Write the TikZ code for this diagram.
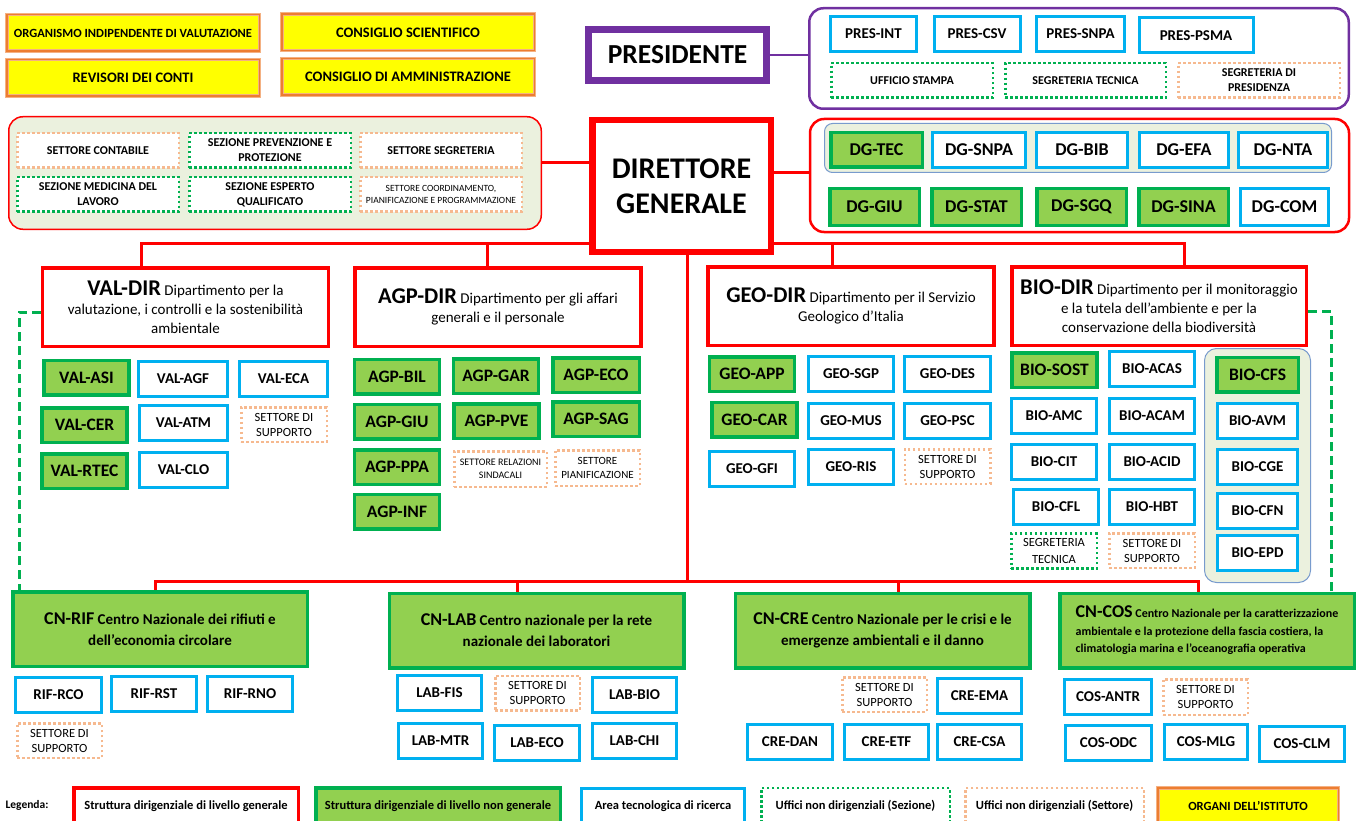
\documentclass[tikz,border=0pt]{standalone}
\usepackage{fontspec}
\setmainfont{Carlito}
\usetikzlibrary{backgrounds}

\definecolor{redline}{RGB}{255,0,0}
\definecolor{greenline}{RGB}{0,176,80}
\definecolor{greenfill}{RGB}{146,208,80}
\definecolor{blueline}{RGB}{0,176,240}
\definecolor{orangedot}{RGB}{246,185,143}
\definecolor{purpleline}{RGB}{112,48,160}
\definecolor{organfill}{RGB}{255,255,0}
\definecolor{organline}{RGB}{237,125,49}
\definecolor{organouter}{RGB}{244,177,131}
\definecolor{panelfill}{RGB}{235,241,222}
\definecolor{groupline}{RGB}{120,155,205}

\newcommand{\deptcode}[1]{{\fontsize{22.5}{24}\selectfont\bfseries #1}}
\newcommand{\cncode}[1]{{\fontsize{18}{20}\selectfont #1}}

\tikzset{
unittext/.style={
  align=center,
  inner sep=1pt,
  text=black
},
greenbox/.style={
  draw=greenline,
  fill=greenfill,
  line width=3.5pt,
  minimum width=85pt,
  minimum height=34.5pt,
  unittext,
  font=\bfseries\fontsize{17.5}{20}\selectfont
},
bluebox/.style={
  draw=blueline,
  fill=white,
  line width=3pt,
  minimum width=86pt,
  minimum height=35pt,
  unittext,
  font=\bfseries\fontsize{15}{18}\selectfont
},
sezbox/.style={
  draw=greenline,
  fill=white,
  line width=2.5pt,
  dash pattern=on 2.5pt off 2.5pt,
  minimum width=85.5pt,
  minimum height=34.5pt,
  unittext,
  font=\fontsize{12.5}{16}\selectfont
},
setbox/.style={
  draw=orangedot,
  fill=white,
  line width=2.5pt,
  dash pattern=on 2.5pt off 2.5pt,
  minimum width=85.5pt,
  minimum height=34.5pt,
  unittext,
  font=\fontsize{12.5}{15}\selectfont
},
organbox/.style={
  draw=organouter,
  line width=1pt,
  double=organline,
  double distance=1.5pt,
  fill=organfill,
  minimum width=252.5pt,
  minimum height=36.5pt,
  unittext,
  font=\bfseries\fontsize{14.5}{17}\selectfont
},
deptbox/.style={
  draw=redline,
  fill=white,
  line width=3.5pt,
  minimum width=286pt,
  minimum height=78.5pt,
  align=center,
  inner sep=2pt,
  font=\fontsize{15}{19}\selectfont
},
cnbox/.style={
  draw=greenline,
  fill=greenfill,
  line width=3.5pt,
  minimum width=294.5pt,
  minimum height=74.5pt,
  align=center,
  inner sep=2pt,
  font=\bfseries\fontsize{15}{21}\selectfont
},
panel/.style={
  rounded corners=14pt,
  line width=2.5pt,
  fill=white
},
groupbox/.style={
  draw=groupline,
  fill=panelfill,
  line width=1pt,
  rounded corners=8pt
},
stafftext/.style={
  font=\bfseries\fontsize{12}{15}\selectfont,
  minimum width=161.5pt,
  minimum height=34.5pt
},
dgtext/.style={
  font=\bfseries\fontsize{18}{20}\selectfont
},
legtext/.style={
  font=\bfseries\fontsize{12.5}{14}\selectfont,
  minimum height=36pt
},
redconn/.style={
  draw=redline,
  line width=3pt
},
purpleconn/.style={
  draw=purpleline,
  line width=2.5pt
},
greendash/.style={
  draw=greenline,
  line width=3pt,
  dash pattern=on 9pt off 5pt
}
}

\begin{document}
\begin{tikzpicture}[
    x=1pt, y=-1pt,
    headbox/.style={fill=white, align=center, inner sep=2pt}
  ]
  \useasboundingbox (0,0) rectangle (1362,821);

  % organi dell'istituto
  \node[organbox, font=\bfseries\fontsize{12.5}{14}\selectfont] (oiv) at (133,33) {ORGANISMO INDIPENDENTE DI VALUTAZIONE};
  \node[organbox] (cs) at (408,32.5) {CONSIGLIO SCIENTIFICO};
  \node[organbox] (rev) at (133,78) {REVISORI DEI CONTI};
  \node[organbox] (cda) at (408,77) {CONSIGLIO DI AMMINISTRAZIONE};

  % presidente
  \node[headbox, draw=purpleline, line width=7pt, minimum width=178pt, minimum height=51pt,
        font=\bfseries\fontsize{27.5}{30}\selectfont] (pres) at (677.5,55) {PRESIDENTE};
  \node[panel, draw=purpleline, minimum width=539.5pt, minimum height=100.5pt] (prespanel) at (1079,58.5) {};
  \node[bluebox] (presint) at (873.5,34) {PRES-INT};
  \node[bluebox] (prescsv) at (977,34) {PRES-CSV};
  \node[bluebox, minimum width=88pt] (pressnpa) at (1080.5,34) {PRES-SNPA};
  \node[bluebox, minimum width=114pt] (prespsma) at (1196,35.5) {PRES-PSMA};
  \node[sezbox, stafftext] (uffstampa) at (912,80.5) {UFFICIO STAMPA};
  \node[sezbox, stafftext, minimum width=160.5pt] (segtec) at (1085.5,80.5) {SEGRETERIA TECNICA};
  \node[setbox, stafftext] (segpres) at (1259,80.5) {SEGRETERIA DI\\PRESIDENZA};

  % uffici di staff
  \node[panel, draw=redline, line width=1.5pt, fill=panelfill, minimum width=532.5pt, minimum height=112.5pt] (staffpanel) at (275,173) {};
  \node[setbox, stafftext] (setcont) at (98,150.5) {SETTORE CONTABILE};
  \node[sezbox, stafftext] (sezprev) at (270,150.5) {SEZIONE PREVENZIONE E\\PROTEZIONE};
  \node[setbox, stafftext] (setseg) at (441,150.5) {SETTORE SEGRETERIA};
  \node[sezbox, stafftext] (sezmed) at (98,194.5) {SEZIONE MEDICINA DEL\\LAVORO};
  \node[sezbox, stafftext] (sezesp) at (270,194.5) {SEZIONE ESPERTO\\QUALIFICATO};
  \node[setbox, stafftext, font=\fontsize{9.5}{11.5}\selectfont] (setcoord) at (441,194.5) {SETTORE COORDINAMENTO,\\PIANIFICAZIONE E PROGRAMMAZIONE};

  % direttore generale
  \node[headbox, draw=redline, line width=6.5pt, minimum width=178.5pt, minimum height=131.5pt,
        font=\bfseries\fontsize{30}{35}\selectfont] (dg) at (681.5,186) {DIRETTORE\\GENERALE};
  \node[panel, draw=redline, minimum width=539pt, minimum height=113pt] (dgpanel) at (1079.5,175.5) {};
  \node[groupbox, minimum width=507pt, minimum height=49pt] (dgrow) at (1078,148) {};
  \node[greenbox, dgtext, minimum width=91.5pt] (dgtec) at (876.5,150) {DG-TEC};
  \node[bluebox, dgtext, minimum width=93pt] (dgsnpa) at (979,150) {DG-SNPA};
  \node[bluebox, dgtext, minimum width=91pt] (dgbib) at (1082,150) {DG-BIB};
  \node[bluebox, dgtext, minimum width=89pt] (dgefa) at (1184,150) {DG-EFA};
  \node[bluebox, dgtext, minimum width=89pt] (dgnta) at (1283,150) {DG-NTA};
  \node[greenbox, dgtext, minimum width=89.5pt, minimum height=36.5pt] (dggiu) at (874.5,207) {DG-GIU};
  \node[greenbox, dgtext, minimum width=89.5pt, minimum height=36.5pt] (dgstat) at (976.5,207) {DG-STAT};
  \node[greenbox, dgtext, minimum width=89.5pt, minimum height=36.5pt] (dgsgq) at (1081.5,207) {DG-SGQ};
  \node[greenbox, dgtext, minimum width=89.5pt, minimum height=36.5pt] (dgsina) at (1183.5,207) {DG-SINA};
  \node[bluebox, dgtext, minimum width=88pt, minimum height=37pt] (dgcom) at (1284.5,207) {DG-COM};

  % dipartimenti
  \node[deptbox] (valdir) at (185.5,307) {\deptcode{VAL-DIR} Dipartimento per la\\valutazione, i controlli e la sostenibilità\\ambientale};
  \node[deptbox] (agpdir) at (498,307) {\deptcode{AGP-DIR} Dipartimento per gli affari\\generali e il personale};
  \node[deptbox] (geodir) at (851,306) {\deptcode{GEO-DIR} Dipartimento per il Servizio\\Geologico d’Italia};
  \node[deptbox, minimum width=294.5pt] (biodir) at (1159,306) {\deptcode{BIO-DIR} Dipartimento per il monitoraggio\\e la tutela dell’ambiente e per la\\conservazione della biodiversità};

  \node[greenbox] (valasi) at (86.5,377.5) {VAL-ASI};
  \node[bluebox, minimum width=89pt] (valagf) at (183,378.5) {VAL-AGF};
  \node[bluebox, minimum width=88pt] (valeca) at (283.5,378.5) {VAL-ECA};
  \node[greenbox] (valcer) at (84.5,425) {VAL-CER};
  \node[bluebox, minimum width=88pt] (valatm) at (183.5,422.5) {VAL-ATM};
  \node[setbox] (valsup) at (284,424.5) {SETTORE DI\\SUPPORTO};
  \node[greenbox] (valrtec) at (84.5,471) {VAL-RTEC};
  \node[bluebox, minimum width=88pt] (valclo) at (183.5,469.5) {VAL-CLO};

  \node[greenbox] (agpbil) at (397,376.5) {AGP-BIL};
  \node[greenbox] (agpgar) at (496,376) {AGP-GAR};
  \node[greenbox, minimum width=86.5pt] (agpeco) at (596,375) {AGP-ECO};
  \node[greenbox] (agpgiu) at (397,421.5) {AGP-GIU};
  \node[greenbox] (agppve) at (496.5,421) {AGP-PVE};
  \node[greenbox, minimum width=86.5pt] (agpsag) at (596,419) {AGP-SAG};
  \node[greenbox] (agpppa) at (397,467) {AGP-PPA};
  \node[setbox, minimum width=92.5pt, minimum height=35.5pt, font=\fontsize{10}{13.5}\selectfont] (agprel) at (500.5,469) {SETTORE RELAZIONI\\SINDACALI};
  \node[setbox, minimum width=84.5pt, minimum height=35.5pt, font=\fontsize{11}{14}\selectfont] (agppia) at (597.5,468) {SETTORE\\PIANIFICAZIONE};
  \node[greenbox] (agpinf) at (397,511.5) {AGP-INF};

  \node[greenbox] (geoapp) at (752,374) {GEO-APP};
  \node[bluebox, minimum width=85pt] (geosgp) at (851,373.5) {GEO-SGP};
  \node[bluebox] (geodes) at (947.5,374) {GEO-DES};
  \node[greenbox] (geocar) at (754.5,419.5) {GEO-CAR};
  \node[bluebox, minimum width=85pt] (geomus) at (851,421) {GEO-MUS};
  \node[bluebox] (geopsc) at (947.5,421) {GEO-PSC};
  \node[bluebox, minimum width=85pt] (geogfi) at (752,469) {GEO-GFI};
  \node[bluebox, minimum width=85pt] (georis) at (851,467) {GEO-RIS};
  \node[setbox] (geosup) at (947.5,466.5) {SETTORE DI\\SUPPORTO};

  \node[greenbox] (biosost) at (1054.5,370) {BIO-SOST};
  \node[bluebox, minimum width=85pt] (bioacas) at (1152,369) {BIO-ACAS};
  \node[bluebox, minimum width=85pt] (bioamc) at (1054,415.5) {BIO-AMC};
  \node[bluebox, minimum width=85pt] (bioacam) at (1152,415.5) {BIO-ACAM};
  \node[bluebox, minimum width=85pt] (biocit) at (1054,462) {BIO-CIT};
  \node[bluebox, minimum width=85pt] (bioacid) at (1152,462) {BIO-ACID};
  \node[bluebox, minimum width=85pt] (biocfl) at (1056,506.5) {BIO-CFL};
  \node[bluebox, minimum width=85pt] (biohbt) at (1152,507) {BIO-HBT};
  \node[sezbox, minimum height=35pt, font=\fontsize{12.5}{16.5}\selectfont] (biosegt) at (1054,551) {SEGRETERIA\\TECNICA};
  \node[setbox] (biosup) at (1152,550.5) {SETTORE DI\\SUPPORTO};
  \node[groupbox, rounded corners=12pt, minimum width=106pt, minimum height=234pt] (biogroup) at (1257.5,465.5) {};
  \node[greenbox, minimum width=81.5pt] (biocfs) at (1257.5,374.5) {BIO-CFS};
  \node[bluebox, minimum width=80pt] (bioavm) at (1257.5,421) {BIO-AVM};
  \node[bluebox, minimum width=80pt] (biocge) at (1257.5,466.5) {BIO-CGE};
  \node[bluebox, minimum width=80pt] (biocfn) at (1257.5,510.5) {BIO-CFN};
  \node[bluebox, minimum width=80pt] (bioepd) at (1257.5,553) {BIO-EPD};

  % centri nazionali
  \node[cnbox] (cnrif) at (160,629) {\cncode{CN-RIF} Centro Nazionale dei rifiuti e\\dell’economia circolare};
  \node[cnbox] (cnlab) at (536.5,630.5) {\cncode{CN-LAB} Centro nazionale per la rete\\nazionale dei laboratori};
  \node[cnbox] (cncre) at (882.5,630.5) {\cncode{CN-CRE} Centro Nazionale per le crisi e le\\emergenze ambientali e il danno};
  \node[cnbox, align=left, font=\bfseries\fontsize{12}{17.5}\selectfont] (cncos) at (1207,630.5) {\cncode{CN-COS} Centro Nazionale per la caratterizzazione\\ambientale e la protezione della fascia costiera, la\\climatologia marina e l'oceanografia operativa};

  \node[bluebox] (rifrco) at (58.5,694.5) {RIF-RCO};
  \node[bluebox, minimum width=85pt] (rifrst) at (154,694) {RIF-RST};
  \node[bluebox, minimum width=85pt] (rifrno) at (250,694) {RIF-RNO};
  \node[setbox, minimum width=84.5pt] (rifsup) at (59.5,740.5) {SETTORE DI\\SUPPORTO};

  \node[bluebox, minimum width=84pt] (labfis) at (439.5,692.5) {LAB-FIS};
  \node[setbox, minimum width=84.5pt] (labsup) at (537.5,693) {SETTORE DI\\SUPPORTO};
  \node[bluebox, minimum width=84pt] (labbio) at (634.5,694.5) {LAB-BIO};
  \node[bluebox, minimum width=84pt] (labmtr) at (440.5,740.5) {LAB-MTR};
  \node[bluebox, minimum width=85pt] (labeco) at (537,743) {LAB-ECO};
  \node[bluebox, minimum width=84pt] (labchi) at (634.5,741) {LAB-CHI};

  \node[setbox, minimum width=84.5pt] (cresup) at (884.5,694.5) {SETTORE DI\\SUPPORTO};
  \node[bluebox, minimum width=84pt] (creema) at (979.5,695.5) {CRE-EMA};
  \node[bluebox, minimum width=85pt] (credan) at (790,741.5) {CRE-DAN};
  \node[bluebox, minimum width=84pt] (creetf) at (886.5,741.5) {CRE-ETF};
  \node[bluebox, minimum width=84pt] (crecsa) at (979.5,741.5) {CRE-CSA};

  \node[bluebox, minimum width=87pt] (cosantr) at (1108,697) {COS-ANTR};
  \node[setbox, minimum width=84.5pt, minimum height=35.5pt] (cossup) at (1205.5,697) {SETTORE DI\\SUPPORTO};
  \node[bluebox, minimum width=86pt] (cosodc) at (1108.5,743) {COS-ODC};
  \node[bluebox, minimum width=83pt] (cosmlg) at (1206,741.5) {COS-MLG};
  \node[bluebox, minimum width=85pt] (cosclm) at (1302,743.5) {COS-CLM};

  % legenda
  \node[font=\bfseries\fontsize{11.5}{13}\selectfont] (legtitle) at (27,805) {Legenda:};
  \node[deptbox, legtext, minimum width=224.5pt] (legred) at (186,806) {Struttura dirigenziale di livello generale};
  \node[cnbox, legtext, minimum width=244.5pt] (leggreen) at (438,806) {Struttura dirigenziale di livello non generale};
  \node[bluebox, legtext, minimum width=163pt] (legblue) at (663,806) {Area tecnologica di ricerca};
  \node[sezbox, legtext, minimum width=188.5pt] (legsez) at (855.5,806) {Uffici non dirigenziali (Sezione)};
  \node[setbox, legtext, minimum width=178.5pt] (legset) at (1054.5,806) {Uffici non dirigenziali (Settore)};
  \node[organbox, legtext, minimum width=180.5pt] (legorg) at (1248,806) {ORGANI DELL’ISTITUTO};

  % collegamenti
  \coordinate (jval) at (141,243);
  \coordinate (jagp) at (487,243);
  \coordinate (jgeo) at (832,243);
  \coordinate (jbio) at (1184,243);
  \coordinate (trunk) at (687,581);
  \coordinate (jrif) at (155,581);
  \coordinate (jlab) at (517,581);
  \coordinate (jcre) at (898,581);
  \coordinate (jcos) at (1198,581);
  \coordinate (dgl) at (589,163);
  \coordinate (dgr) at (774,173);
  \coordinate (dvl) at (19,312);
  \coordinate (dvr) at (1331,311);

  \begin{scope}[on background layer]
    \draw[purpleconn] (pres.east) -- (prespanel.west |- pres.east);
    \draw[redconn] (staffpanel.east |- dgl) -- (dgl);
    \draw[redconn] (dgr) -- (dgpanel.west |- dgr);
    \draw[redconn] (jval |- valdir.north) -- (jval) -- (jbio) -- (jbio |- biodir.north);
    \draw[redconn] (jagp) -- (jagp |- agpdir.north);
    \draw[redconn] (jgeo) -- (jgeo |- geodir.north);
    \draw[redconn] (dg.south -| trunk) -- (trunk);
    \draw[redconn] (jrif |- cnrif.north) -- (jrif) -- (jcos) -- (jcos |- cncos.north);
    \draw[redconn] (jlab) -- (jlab |- cnlab.north);
    \draw[redconn] (jcre) -- (jcre |- cncre.north);
    \draw[greendash] (valdir.west |- dvl) -- (dvl) -- (dvl |- cnrif.north);
    \draw[greendash] (biodir.east |- dvr) -- (dvr) -- (dvr |- cncos.north);
  \end{scope}
\end{tikzpicture}
\end{document}
